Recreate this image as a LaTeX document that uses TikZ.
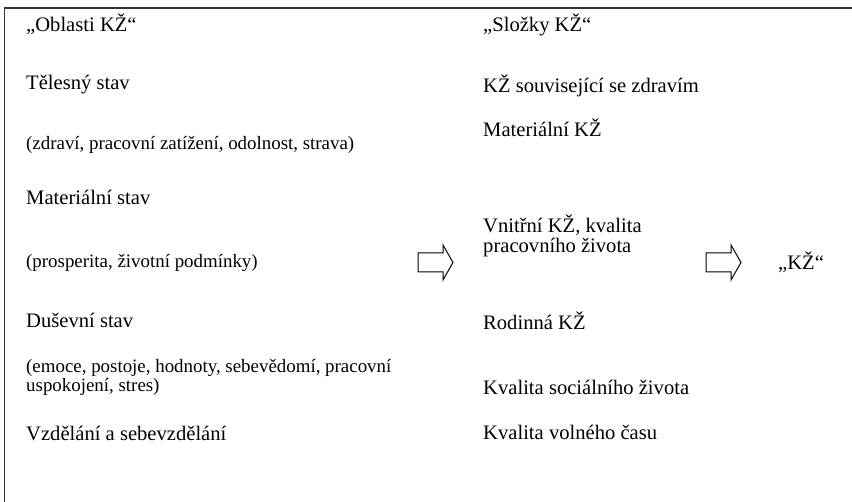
\documentclass[tikz,border=0pt]{standalone}
\usepackage{fontspec}
\setmainfont{Liberation Serif}

\begin{document}
\begin{tikzpicture}[x=1pt, y=-1pt,
	item/.style={anchor=base west, inner sep=0pt, font=\fontsize{20.6}{20}\selectfont},
	note/.style={anchor=base west, inner sep=0pt, align=left, font=\fontsize{18.9}{19}\selectfont},
	bigarrow/.style={draw, line width=1pt}]
\useasboundingbox (0,0) rectangle (852,502);
\draw[line width=1.3pt, black!80] (4.5,502) -- (4.5,8) -- (852,8);
% oblasti
\node[item] (oblasti) at (26,32) {„Oblasti KŽ“};
\node[item] (telo) at (26,90) {Tělesný stav};
\node[note] (teloP) at (26,150) {(zdraví, pracovní zatížení, odolnost, strava)};
\node[item] (mat) at (26,205) {Materiální stav};
\node[note] (matP) at (26,268) {(prosperita, životní podmínky)};
\node[item] (duse) at (26,328) {Duševní stav};
\node[note] (duseP) at (26,392) {(emoce, postoje, hodnoty, sebevědomí, pracovní\\uspokojení, stres)};
\node[item] (vzdel) at (26,441) {Vzdělání a sebevzdělání};
% slozky
\node[item] (slozky) at (483,32) {„Složky KŽ“};
\node[item] (zdravi) at (483,93) {KŽ související se zdravím};
\node[item] (matKZ) at (483,137) {Materiální KŽ};
\node[item, align=left] (vnitrni) at (483,253) {Vnitřní KŽ, kvalita\\pracovního života};
\node[item] (rodina) at (483,330) {Rodinná KŽ};
\node[item] (social) at (483,395) {Kvalita sociálního života};
\node[item] (volno) at (483,440) {Kvalita volného času};
\node[item] (kz) at (778,270) {„KŽ“};
% sipky
\foreach \x in {418, 706}
	\draw[bigarrow] (\x,253) -- ++(25,0) -- ++(0,-8) -- ++(10,17.5) -- ++(-10,17.5) -- ++(0,-8) -- ++(-25,0) -- cycle;
\end{tikzpicture}
\end{document}
